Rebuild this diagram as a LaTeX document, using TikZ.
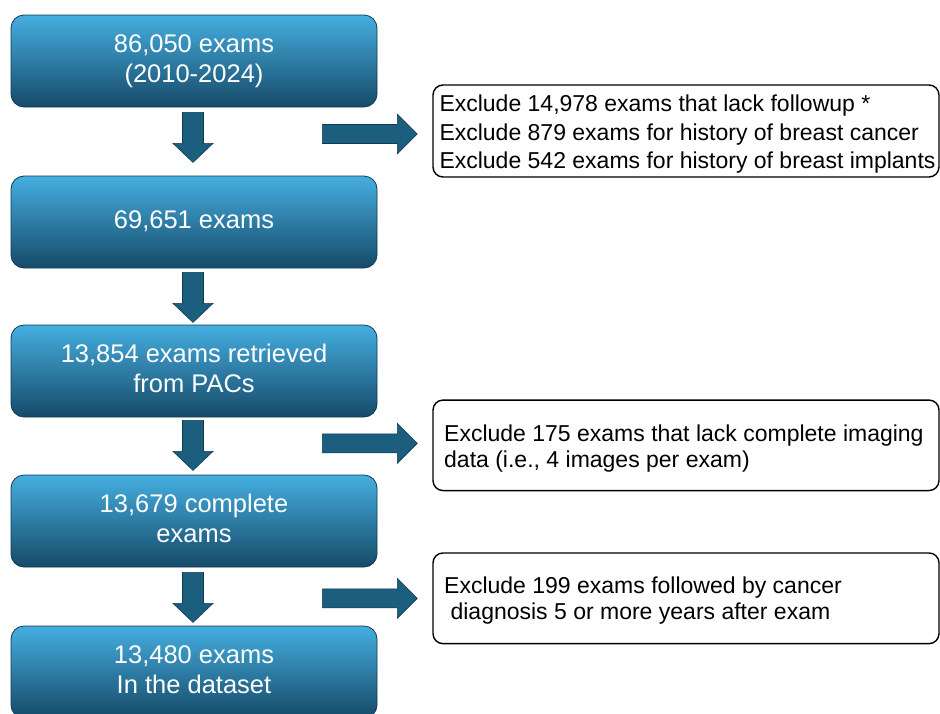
\documentclass[tikz,border=0pt]{standalone}
\usepackage{fontspec}
\setmainfont{Liberation Sans}
\usetikzlibrary{calc}
\definecolor{boxtop}{HTML}{45AEE0}
\definecolor{boxmid}{HTML}{2A87B4}
\definecolor{boxbot}{HTML}{164A68}
\definecolor{boxedge}{HTML}{0F3A52}
\definecolor{arrfill}{HTML}{1B5E7E}
\definecolor{arredge}{HTML}{0E3C52}
\newcommand\mstrut{\rule[-7pt]{0pt}{26pt}}
\newcommand\xstrut{\rule[-5pt]{0pt}{22pt}}
% down block arrow below node #1, starting #2 below its south side
\newcommand\downarr[2]{\draw[blockarrow]
  ($(#1.south)+(-11.5,#2)$) -- ($(#1.south)+(9.5,#2)$) --
  ($(#1.south)+(9.5,#2+31)$) -- ($(#1.south)+(19,#2+31)$) --
  ($(#1.south)+(-1,#2+50)$) -- ($(#1.south)+(-21,#2+31)$) --
  ($(#1.south)+(-11.5,#2+31)$) -- cycle;}
% right block arrow pointing at node #1, shifted #2 downwards
\newcommand\rightarr[2]{\draw[blockarrow]
  ($(#1.west)+(-110,#2-9.5)$) -- ($(#1.west)+(-35,#2-9.5)$) --
  ($(#1.west)+(-35,#2-20)$) -- ($(#1.west)+(-15,#2)$) --
  ($(#1.west)+(-35,#2+20)$) -- ($(#1.west)+(-35,#2+9.5)$) --
  ($(#1.west)+(-110,#2+9.5)$) -- cycle;}
\begin{document}
\begin{tikzpicture}[x=1pt,y=-1pt,
  stagebox/.style={rectangle, rounded corners=13pt, draw=boxedge, line width=0.8pt,
    top color=boxtop, middle color=boxmid, bottom color=boxbot,
    minimum width=366pt, minimum height=92pt, inner sep=0pt, text=white,
    align=center, font=\fontsize{25.5}{30}\selectfont},
  exbox/.style={rectangle, rounded corners=10pt, draw=black, line width=1.4pt,
    minimum width=506pt, inner sep=0pt},
  extext/.style={anchor=north west, inner sep=0pt, align=left},
  blockarrow/.style={fill=arrfill, draw=arredge, line width=0.6pt}]
\useasboundingbox (0,0) rectangle (940,713);
\clip (0,0) rectangle (940,713);

% main stages
\node[stagebox] (b1) at (194,61)  {\mstrut 86,050 exams\\\mstrut (2010-2024)};
\node[stagebox] (b2) at (194,222) {\mstrut 69,651 exams};
\node[stagebox] (b3) at (194,371) {\mstrut 13,854 exams retrieved\\\mstrut from PACs};
\node[stagebox] (b4) at (194,521) {\mstrut 13,679 complete\\\mstrut exams};
\node[stagebox] (b5) at (194,672) {\mstrut 13,480 exams\\\mstrut In the dataset};

% exclusion boxes
\node[exbox, minimum height=92pt]   (e1) at (686,131) {};
\node[exbox, minimum height=90.5pt] (e2) at (686,445.3) {};
\node[exbox, minimum height=90.7pt] (e3) at (686,598.3) {};

\node[extext, font=\fontsize{23}{28.3}\selectfont] (t1) at (439.3,94.7)
  {\xstrut Exclude 14,978 exams that lack followup *\\
   \xstrut Exclude 879 exams for history of breast cancer\\
   \xstrut Exclude 542 exams for history of breast implants};
\node[extext, font=\fontsize{23}{26}\selectfont] (t2) at (444,424.7)
  {\xstrut Exclude 175 exams that lack complete imaging\\
   \xstrut data (i.e., 4 images per exam)};
\node[extext, font=\fontsize{23}{26}\selectfont] (t3) at (444,576.7)
  {\xstrut Exclude 199 exams followed by cancer\\
   \xstrut\ diagnosis 5 or more years after exam};

% connectors
\downarr{b1}{5}
\downarr{b2}{4}
\downarr{b3}{3}
\downarr{b4}{5}
\rightarr{e1}{3}
\rightarr{e2}{-2}
\rightarr{e3}{0}
\end{tikzpicture}
\end{document}
